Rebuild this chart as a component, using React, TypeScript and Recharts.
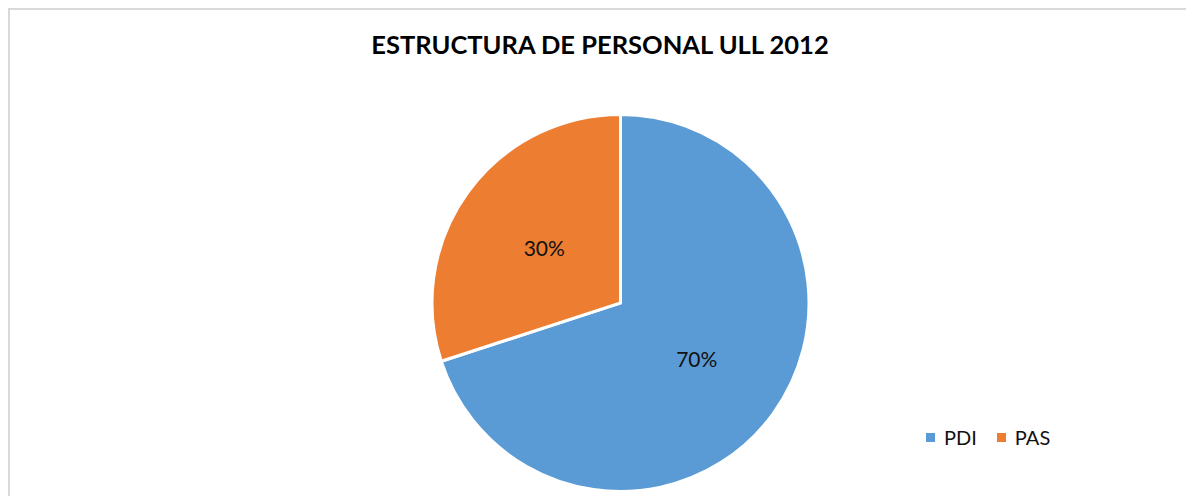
import React from 'react';
import { PieChart, Pie, Cell, Legend } from 'recharts';

const categories = ['PDI', 'PAS'];
const shares = [70, 30];
const COLORS = ['#5B9BD5', '#ED7D31'];

const data = categories.map((name, i) => ({ name, value: shares[i] }));

const RADIAN = Math.PI / 180;

const renderLabel = ({ cx, cy, midAngle, outerRadius, percent }: any) => {
  const r = outerRadius * 0.5;
  const x = cx + r * Math.cos(-midAngle * RADIAN);
  const y = cy + r * Math.sin(-midAngle * RADIAN);
  return (
    <text
      x={x}
      y={y}
      fill="#111"
      textAnchor="middle"
      dominantBaseline="central"
      fontSize={21}
      fontFamily="Lato, 'Open Sans', sans-serif"
    >
      {`${(percent * 100).toFixed(0)}%`}
    </text>
  );
};

// keep legend in data order (PDI, PAS)
const renderLegend = ({ payload }: any) => {
  const items = [...(payload || [])].sort(
    (a: any, b: any) => categories.indexOf(a.value) - categories.indexOf(b.value)
  );
  return (
    <div style={{ display: 'flex', alignItems: 'center', fontFamily: "Lato, 'Open Sans', sans-serif", fontSize: 20, color: '#111' }}>
      {items.map((entry: any, index: number) => (
        <div key={`leg-${index}`} style={{ display: 'flex', alignItems: 'center', marginRight: 20 }}>
          <span style={{ width: 9, height: 9, background: entry.color, display: 'inline-block', marginRight: 9 }} />
          <span>{entry.value}</span>
        </div>
      ))}
    </div>
  );
};

const App = () => {
  return (
    <div style={{ position: 'absolute', left: 0, top: 0, width: 1186, height: 496, background: '#fff', overflow: 'hidden' }}>
      <div
        style={{
          position: 'absolute',
          left: 8,
          top: 8,
          width: 1200,
          height: 500,
          borderTop: '2px solid #d9d9d9',
          borderLeft: '2px solid #d9d9d9',
        }}
      />
      <div
        style={{
          position: 'absolute',
          left: 0,
          top: 29,
          width: 1200,
          textAlign: 'center',
          fontFamily: "Lato, 'Open Sans', sans-serif",
          fontWeight: 'bold',
          fontSize: 25.5,
          color: '#000',
        }}
      >
        ESTRUCTURA DE PERSONAL ULL 2012
      </div>
      <PieChart width={1186} height={496} style={{ position: 'absolute', left: 0, top: 0 }}>
        <Pie
          data={data}
          dataKey="value"
          nameKey="name"
          cx={615.5}
          cy={298}
          outerRadius={188.5}
          startAngle={90}
          endAngle={-270}
          stroke="#fff"
          strokeWidth={3}
          labelLine={false}
          label={renderLabel}
          isAnimationActive={false}
        >
          {data.map((entry, index) => (
            <Cell key={`cell-${index}`} fill={COLORS[index % COLORS.length]} />
          ))}
        </Pie>
        <Legend
          content={renderLegend}
          wrapperStyle={{ position: 'absolute', left: 926, top: 425, width: 200 }}
        />
      </PieChart>
    </div>
  );
};

export default App;
